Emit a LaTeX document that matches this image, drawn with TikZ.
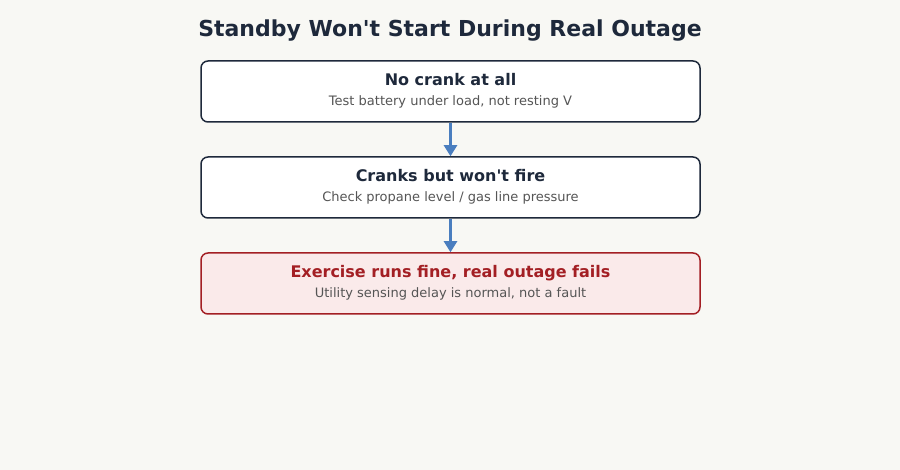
\documentclass[tikz,border=0pt]{standalone}
\usepackage{fontspec}
\setmainfont{DejaVu Sans}[Ligatures=TeXOff]
\usetikzlibrary{arrows.meta}
\definecolor{paper}{HTML}{F8F8F4}
\definecolor{ink}{HTML}{1E293B}
\definecolor{muted}{HTML}{555555}
\definecolor{alert}{HTML}{A31F24}
\definecolor{alertfill}{HTML}{FAEAEA}
\definecolor{flowblue}{HTML}{4A7EBF}

\begin{document}
\begin{tikzpicture}[x=1pt,y=-1pt,
  stepbox/.style={draw=ink, line width=1.5pt, fill=white, rounded corners=7pt,
    minimum width=499pt, minimum height=61pt, inner sep=0pt},
  faultbox/.style={stepbox, draw=alert, fill=alertfill},
  head/.style={anchor=base, inner sep=0pt, text=ink, font=\fontsize{16}{19}\selectfont\bfseries},
  sub/.style={anchor=base, inner sep=0pt, text=muted, font=\fontsize{13}{15}\selectfont},
  flow/.style={draw=flowblue, line width=2.3pt, -{Triangle[width=13pt,length=11pt]}}]
 \fill[paper] (0,0) rectangle (900,470);
 \useasboundingbox (0,0) rectangle (900,470);
 \node[anchor=base, inner sep=0pt, text=ink, font=\fontsize{22}{26}\selectfont\bfseries] (title) at (450,36.5) {Standby Won't Start During Real Outage};
 % the three checks
 \node[stepbox] (crank) at (450.5,91.5) {};
 \node[head] (crankhead) at (450.5,86) {No crank at all};
 \node[sub] (cranksub) at (450.5,105.5) {Test battery under load, not resting V};
 \node[stepbox] (fire) at (450.5,187.5) {};
 \node[head] (firehead) at (450.5,182) {Cranks but won't fire};
 \node[sub] (firesub) at (450.5,201.5) {Check propane level / gas line pressure};
 \node[faultbox] (outage) at (450.5,283.5) {};
 \node[head, text=alert] (outagehead) at (450.5,278) {Exercise runs fine, real outage fails};
 \node[sub] (outagesub) at (450.5,297.5) {Utility sensing delay is normal, not a fault};
 \draw[flow] (crank) -- (fire);
 \draw[flow] (fire) -- (outage);
\end{tikzpicture}
\end{document}
